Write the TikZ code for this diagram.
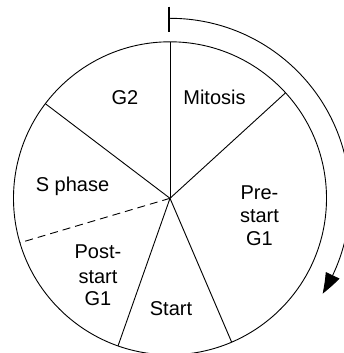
\documentclass[tikz,border=0pt]{standalone}
\usepackage{fontspec}
\setmainfont{Liberation Sans}
\usetikzlibrary{arrows.meta,bending}
\begin{document}
\begin{tikzpicture}[x=1pt,y=1pt,
  lbl/.style={inner sep=0pt,anchor=base,font=\fontsize{20}{23}\selectfont},
  spoke/.style={line width=0.9pt},
  dashspoke/.style={line width=0.9pt,dash pattern=on 8pt off 5pt}]
\useasboundingbox (-170,-154.7) rectangle (173,198.3);
\coordinate (c) at (0,0);
\draw[line width=0.9pt] (c) circle[radius=156.5];
\coordinate (p1) at (90:156.5);
\coordinate (p2) at (42.4:156.5);
\coordinate (p3) at (142.8:156.5);
\coordinate (p4) at (196.5:156.5);
\coordinate (p5) at (250.6:156.5);
\coordinate (p6) at (293.2:156.5);
\draw[spoke] (c) -- (p1);
\draw[spoke] (c) -- (p2);
\draw[spoke] (c) -- (p3);
\draw[dashspoke] (c) -- (p4);
\draw[spoke] (c) -- (p5);
\draw[spoke] (c) -- (p6);
% outer arrow
\coordinate (a0) at (90:180);
\coordinate (t1) at (-1,191.6);
\coordinate (t2) at (-1,166.6);
\draw[line width=1.6pt] (t1) -- (t2);
\draw[line width=0.9pt,-{Triangle[length=21pt,width=15pt,bend]}] (a0) arc[start angle=90,end angle=-32,radius=180];
% labels
\node[lbl] (mit) at (44.5,93.3) {Mitosis};
\node[lbl] (g2) at (-45,93.3) {G2};
\node[lbl] (sph) at (-97.5,6.6) {S phase};
\node[lbl] (pre1) at (89.5,-1) {Pre-};
\node[lbl] (pre2) at (89.5,-24) {start};
\node[lbl] (pre3) at (89.5,-46.7) {G1};
\node[lbl] (post1) at (-72,-60) {Post-};
\node[lbl] (post2) at (-72,-85) {start};
\node[lbl] (post3) at (-72,-106.7) {G1};
\node[lbl] (st) at (1,-116.7) {Start};
\end{tikzpicture}
\end{document}
